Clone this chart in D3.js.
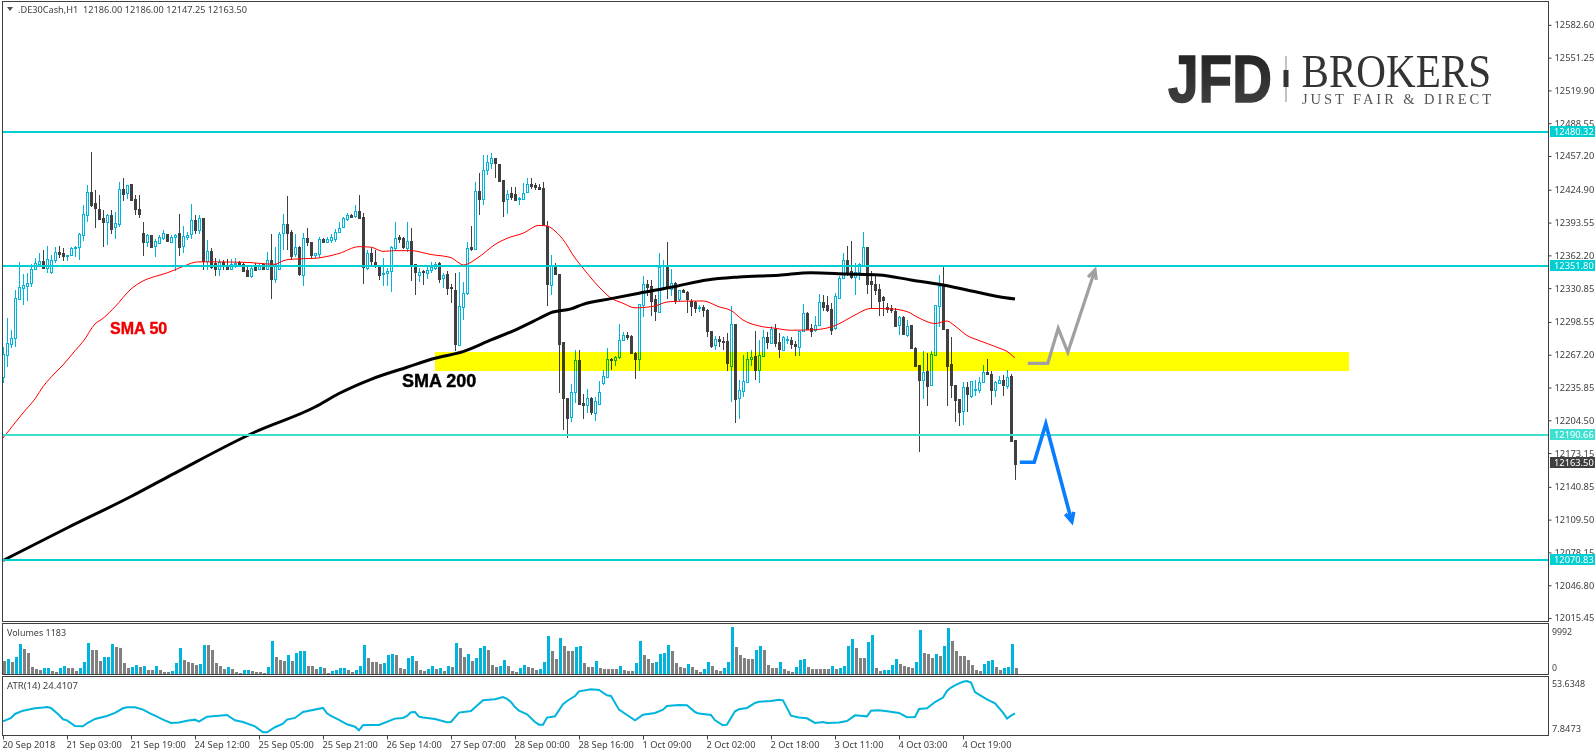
<!DOCTYPE html>
<html>
<head>
<meta charset="utf-8">
<script src="https://cdn.jsdelivr.net/npm/d3@7"></script>
<style>
html, body { margin: 0; padding: 0; background: #fff; overflow: hidden; }
svg { display: block; }
text { font-family: "Noto Sans", sans-serif; }
</style>
</head>
<body>
<div id="content"></div>
<script>
// OHLC per hourly bar
var openVals = [12246,12267,12277,12283,12321,12331,12333,12336,12349,12354,
12357,12350,12347,12357,12365,12364,12362,12362,12369,12371,
12382,12401,12423,12412,12407,12398,12394,12401,12389,12393,
12426,12421,12430,12416,12407,12384,12375,12382,12371,12374,
12379,12383,12375,12380,12384,12371,12380,12383,12396,12387,
12398,12356,12366,12355,12349,12356,12352,12349,12354,12356,
12354,12348,12342,12351,12349,12354,12349,12358,12340,12350,
12383,12392,12385,12363,12370,12344,12379,12375,12362,12364,
12378,12375,12377,12378,12384,12389,12397,12401,12400,12405,
12399,12350,12364,12356,12352,12344,12345,12347,12369,12380,
12379,12369,12376,12354,12343,12347,12345,12348,12350,12355,
12340,12344,12332,12329,12277,12313,12326,12370,12369,12424,
12416,12443,12450,12455,12450,12434,12416,12422,12421,12416,
12416,12422,12430,12429,12428,12427,12390,12334,12352,12344,
12279,12226,12208,12231,12262,12221,12219,12226,12212,12221,
12240,12246,12263,12262,12265,12281,12286,12285,12269,12263,
12315,12335,12333,12320,12308,12331,12352,12330,12336,12320,
12329,12327,12319,12318,12312,12313,12310,12290,12276,12282,
12280,12280,12257,12297,12225,12232,12241,12263,12266,12253,
12266,12284,12279,12292,12279,12272,12282,12281,12277,12275,
12290,12307,12293,12291,12296,12318,12315,12311,12292,12322,
12341,12358,12347,12341,12346,12352,12370,12338,12335,12330,
12322,12313,12312,12309,12295,12303,12286,12296,12274,12257,
12243,12252,12238,12267,12314,12333,12292,12258,12238,12225,
12213,12236,12228,12233,12233,12241,12251,12249,12233,12240,
12243,12237,12247,12186];
var highVals = [12275,12302,12291,12329,12356,12344,12345,12354,12360,12364,
12367,12371,12363,12370,12371,12369,12363,12370,12371,12384,
12410,12429,12461,12425,12420,12406,12402,12406,12404,12432,
12436,12429,12430,12420,12420,12394,12383,12382,12378,12382,
12386,12383,12382,12383,12402,12390,12385,12411,12401,12401,
12398,12377,12369,12360,12359,12358,12359,12359,12360,12357,
12355,12352,12351,12355,12354,12355,12365,12383,12370,12385,
12402,12419,12386,12383,12371,12384,12388,12375,12364,12380,
12379,12380,12383,12387,12394,12399,12403,12402,12410,12420,
12403,12367,12369,12367,12353,12360,12350,12371,12394,12382,
12380,12394,12388,12354,12350,12348,12353,12356,12356,12356,
12345,12347,12335,12345,12346,12337,12375,12390,12432,12441,
12458,12458,12460,12455,12450,12434,12425,12428,12428,12418,
12431,12436,12436,12431,12430,12432,12395,12363,12355,12344,
12279,12226,12239,12272,12272,12230,12234,12227,12227,12242,
12253,12274,12264,12266,12297,12289,12289,12286,12270,12316,
12342,12339,12339,12324,12364,12358,12375,12349,12337,12329,
12330,12328,12320,12319,12315,12315,12311,12290,12285,12285,
12284,12288,12314,12297,12243,12267,12270,12272,12290,12281,
12291,12289,12295,12297,12288,12285,12285,12284,12280,12290,
12316,12308,12297,12304,12325,12324,12323,12317,12326,12342,
12364,12371,12376,12355,12355,12385,12370,12347,12342,12335,
12323,12317,12315,12312,12304,12304,12300,12296,12275,12257,
12271,12269,12271,12315,12343,12351,12292,12284,12238,12225,
12241,12241,12242,12243,12246,12257,12263,12252,12242,12247,
12248,12253,12249,12186];
var lowVals = [12240,12255,12274,12275,12321,12315,12319,12332,12348,12351,
12349,12345,12344,12355,12360,12357,12357,12362,12361,12358,
12376,12394,12408,12388,12396,12370,12372,12383,12378,12389,
12414,12416,12414,12401,12398,12362,12370,12371,12361,12373,
12377,12375,12375,12347,12362,12364,12377,12378,12383,12383,
12348,12348,12349,12342,12342,12348,12349,12348,12350,12352,
12346,12342,12341,12348,12348,12348,12348,12320,12336,12348,
12367,12367,12358,12361,12342,12333,12371,12360,12360,12360,
12374,12374,12374,12375,12384,12388,12395,12398,12398,12398,
12335,12348,12353,12350,12339,12333,12333,12327,12366,12374,
12368,12365,12338,12324,12337,12334,12340,12345,12348,12336,
12331,12324,12317,12271,12277,12300,12324,12366,12367,12401,
12410,12439,12445,12436,12433,12399,12402,12415,12414,12410,
12415,12422,12426,12425,12425,12392,12314,12324,12343,12231,
12195,12188,12203,12221,12219,12206,12211,12210,12204,12221,
12238,12246,12253,12256,12263,12280,12281,12269,12244,12252,
12303,12323,12304,12299,12307,12329,12320,12323,12316,12318,
12326,12307,12304,12307,12308,12303,12284,12274,12272,12275,
12272,12252,12222,12202,12206,12227,12240,12256,12243,12240,
12265,12273,12279,12275,12264,12272,12277,12273,12266,12266,
12289,12291,12284,12289,12296,12309,12308,12286,12291,12321,
12341,12342,12340,12324,12339,12351,12325,12311,12324,12304,
12304,12307,12307,12295,12286,12286,12284,12273,12257,12174,
12225,12218,12237,12267,12294,12291,12218,12226,12203,12199,
12200,12212,12226,12228,12231,12240,12248,12219,12227,12239,
12228,12234,12184,12147.25];
var closeVals = [12268,12278,12283,12321,12332,12334,12336,12349,12355,12357,
12350,12359,12358,12365,12363,12361,12363,12369,12370,12383,
12402,12423,12411,12407,12397,12394,12401,12388,12393,12426,
12421,12429,12415,12406,12402,12375,12382,12371,12376,12380,
12384,12376,12380,12382,12371,12381,12382,12396,12386,12398,
12357,12366,12351,12349,12356,12352,12349,12354,12355,12354,
12347,12342,12350,12348,12352,12349,12358,12340,12354,12383,
12392,12383,12362,12370,12344,12379,12375,12363,12364,12378,
12375,12378,12380,12385,12388,12398,12401,12399,12405,12398,
12351,12364,12356,12352,12343,12345,12347,12370,12379,12378,
12370,12376,12354,12346,12346,12346,12348,12351,12354,12340,
12343,12331,12331,12277,12314,12326,12369,12368,12424,12416,
12444,12451,12455,12450,12434,12414,12421,12418,12415,12417,
12422,12430,12428,12427,12426,12392,12335,12352,12344,12277,
12225,12207,12232,12262,12220,12219,12226,12213,12223,12232,
12247,12263,12262,12265,12281,12286,12284,12269,12263,12316,
12335,12332,12319,12309,12351,12332,12332,12336,12320,12329,
12327,12320,12314,12312,12313,12310,12290,12276,12282,12280,
12279,12259,12297,12225,12233,12242,12263,12265,12253,12267,
12284,12279,12292,12279,12272,12284,12282,12277,12275,12290,
12307,12292,12290,12296,12318,12313,12310,12291,12323,12341,
12358,12345,12341,12346,12354,12370,12335,12335,12329,12319,
12319,12311,12310,12295,12303,12287,12295,12274,12257,12243,
12251,12238,12268,12315,12333,12292,12257,12238,12224,12213,
12236,12229,12242,12234,12241,12251,12249,12234,12241,12243,
12238,12246,12185,12163.5];

var volumeVals = [2660,3100,2450,3530,6330,5250,4390,1370,940,720,
1150,1170,500,290,1150,1580,1150,1140,500,1150,
2450,6550,5040,5030,2660,3530,3540,6330,5690,5470,
2230,1150,1370,1800,1370,1580,720,710,1580,720,
290,220,500,2230,5470,2880,2450,2230,1800,2020,
6120,6110,5040,2230,1580,940,1370,940,220,70,
720,730,500,290,220,210,1370,6980,3530,2880,
2660,3960,2660,4390,4820,4830,1580,1570,940,1370,
1150,140,500,720,1150,1160,720,290,720,1580,
6120,3310,2450,2440,2020,2230,3960,4180,3960,1080,
1070,3310,3740,2660,720,500,940,1580,940,1150,
500,1580,1370,6550,5470,3530,4180,2660,3310,5470,
5900,5040,1800,1370,1580,2880,1580,500,290,1150,
1800,1370,1150,720,940,2450,8060,4820,3100,7630,
5900,4820,4810,5690,5900,2230,1370,1360,2660,1150,
940,930,920,910,1580,720,500,490,2230,6980,
3960,3100,2230,2450,4180,4390,6120,4820,2230,1370,
1150,2020,1370,720,220,940,2450,1580,720,500,
1150,2450,9992,5690,3960,3310,3100,3090,5040,5900,
5040,1800,1150,1140,2450,940,500,220,1370,2880,
3100,1370,940,930,920,910,900,1580,940,1150,
1580,5900,7420,5470,3310,3300,6770,8280,1150,500,
720,730,1800,3100,2020,1580,1370,1150,2450,9360,
4390,4180,3310,4180,3740,5900,9790,6980,4820,3740,
3730,2880,1800,720,500,2020,2660,2880,1370,720,
1150,1370,6330,1183];

// indicator lines: bar index and value at each bend
var sma50Bars = [0,3,5,8,10,13,15,18,20,23,25,28,32,35,38,41,44,49,60,68,70,72,78,84,89,92,95,98,102,107,112,114,115,119,123,126,130,134,136,138,140,143,145,149,152,155,158,163,166,169,175,179,182,185,189,193,197,202,207,210,213,217,222,226,229,233,236,238,241,244,249,251,253];
var sma50Vals = [12187.6,12202,12211.5,12225,12236.6,12249.7,12257.4,12271,12279.7,12296.6,12302,12313,12330,12337.7,12342,12345.4,12350,12356,12355.6,12353.7,12357,12358.5,12359.4,12364,12370.5,12370,12366,12366.7,12366.7,12363,12360,12355,12353,12360.7,12372.6,12378.5,12383.3,12390.8,12390.3,12385.5,12377.4,12359.7,12350,12332,12321.4,12316.4,12312,12313.8,12317.6,12318.3,12318.6,12313,12309.5,12300.4,12294.7,12292.5,12290.6,12290.9,12293.7,12298.8,12305.2,12311.4,12311,12308.4,12302.3,12297,12299.4,12294.7,12285.6,12280.8,12273.6,12270.3,12264];
var sma200Bars = [0,16,32,43,63,78,84,92,101,108,115,122,128,134,137,142,145,152,159,168,176,184,194,202,211,219,227,235,241,249,253];
var sma200Vals = [12070.4,12101.5,12131.6,12154,12193.3,12217.2,12230.1,12243.7,12255.2,12263.8,12270.1,12281.3,12290.8,12301.8,12307.4,12311,12315.4,12320.8,12326,12332.4,12338.7,12341.5,12343.2,12345.6,12344.4,12343.4,12338.7,12333.9,12329.1,12322.7,12320.5];
var atrBars = [0,2,3,5,8,10,11,12,14,15,16,18,20,21,23,26,28,30,31,33,35,37,38,40,42,44,46,48,49,51,56,58,60,63,65,66,68,70,71,73,75,80,81,82,84,86,88,89,90,91,94,98,100,101,102,103,104,105,108,111,112,114,117,120,123,125,126,127,128,129,131,133,134,135,136,138,140,141,143,144,147,149,151,152,154,156,158,160,163,165,166,169,171,173,174,177,178,180,181,183,184,186,188,189,192,194,195,197,199,201,203,205,206,209,211,213,216,217,219,221,224,226,228,229,231,233,235,236,237,238,239,240,241,242,243,244,246,248,250,251,252,253];
var atrVals = [17.5,20.5,24,26.9,29.1,29.6,30.1,29.3,23.1,19.3,18.4,13.4,13.1,15.8,19.6,22.2,24.9,29,29.85,29.85,27.8,24,22.5,19,16.1,16.4,18.1,19,17.2,21.6,23.1,18.4,16.9,13.1,7.85,7.85,12.3,15.5,19,20.5,25.7,29.3,24.6,22.2,18.7,14.9,12.8,9.6,14.1,14.3,14.3,19.9,20.5,22.2,25.5,25.7,21.6,20.8,19.6,16.7,16.9,25.2,26.6,36,36.9,38.9,37.2,34.5,30.1,26.9,23.7,16.9,14.6,14.6,20.8,21.9,32.5,35.4,39.8,43.9,45.7,45.1,40.4,39.8,27.8,23.1,18.4,23.4,24.9,27.8,31,31.9,31.6,25.7,24.3,23.1,18.4,14,14.6,26.3,28.1,29.3,33.7,34.8,35.4,36.6,36,22.5,20.8,20.2,16.1,16.9,16.1,16.4,17.8,22.8,21.9,26.9,27.2,26.3,24.9,21.1,21.3,28.4,29,34.5,38.4,44.2,47.2,49.2,51,52.4,53.0,51.6,43.3,41,36.9,33.4,25.2,19.9,22.5,24.41];

// hand-drawn arrows
var greyArrowBars = [256.2,261.2,263.8,266.2,273];
var greyArrowVals = [12259,12259,12292.5,12269.5,12348.2];
var blueArrowBars = [254.2,257.8,260.7,267.2];
var blueArrowVals = [12164.4,12164.4,12201,12107.6];

var priceTicks = [12582.60,12551.25,12519.90,12488.55,12457.20,12424.90,12393.55,12362.20,12330.85,12298.55,12267.20,12235.85,12204.50,12173.15,12140.85,12109.50,12078.15,12046.80,12015.45];
var timeBars = [0,16,32,48,64,80,96,112,128,144,160,176,192,208,224,240];
var timeLabels = ["20 Sep 2018","21 Sep 03:00","21 Sep 19:00","24 Sep 12:00","25 Sep 05:00","25 Sep 21:00","26 Sep 14:00","27 Sep 07:00","28 Sep 00:00","28 Sep 16:00","1 Oct 09:00","2 Oct 02:00","2 Oct 18:00","3 Oct 11:00","4 Oct 03:00","4 Oct 19:00"];
var levelVals = [12480.32,12351.80,12190.66,12070.83];
var levelColors = ["#00ced1","#00ced1","#40e0d0","#00ced1"];
var zoneBars = [108,336.5];
var zoneVals = [12269.8,12251.6];
var lastPrice = 12163.50;

var upColor = "#00b4dc", downColor = "#404040", volDown = "#808080", frameColor = "#404040";

var W = 1595, H = 753, right = 1548;
var x = d3.scaleLinear().domain([0, 253]).range([3, 1015]);
var y = d3.scaleLinear().domain([12015.45, 12457.20]).range([618, 156]);
var yVol = d3.scaleLinear().domain([0, 9992]).range([673.5, 627]);
var yAtr = d3.scaleLinear().domain([7.8473, 53.6348]).range([732.3, 680.3]);

var svg = d3.select("#content").append("svg").attr("width", W).attr("height", H);
svg.append("rect").attr("width", W).attr("height", H).attr("fill", "#fff");

// candles
var candles = svg.append("g").selectAll("g").data(openVals).enter().append("g");
candles.append("line")
    .attr("x1", function(d, i) { return x(i) + 0.5; })
    .attr("x2", function(d, i) { return x(i) + 0.5; })
    .attr("y1", function(d, i) { return Math.round(y(highVals[i])); })
    .attr("y2", function(d, i) { return Math.round(y(lowVals[i])); })
    .attr("stroke", function(d, i) { return closeVals[i] >= d ? upColor : downColor; })
    .attr("shape-rendering", "crispEdges");
candles.append("rect")
    .attr("x", function(d, i) { return x(i) - 0.5; })
    .attr("width", 2)
    .attr("y", function(d, i) { return Math.round(y(Math.max(d, closeVals[i]))) + 0.5; })
    .attr("height", function(d, i) { return Math.max(1, Math.round(Math.abs(y(d) - y(closeVals[i])))); })
    .attr("fill", function(d, i) { return closeVals[i] >= d ? "#fff" : downColor; })
    .attr("stroke", function(d, i) { return closeVals[i] >= d ? upColor : downColor; })
    .attr("shape-rendering", "crispEdges");

// yellow zone multiplies over the candles, that gives the green bodies
svg.append("rect")
    .attr("x", x(zoneBars[0])).attr("width", x(zoneBars[1]) - x(zoneBars[0]))
    .attr("y", y(zoneVals[0])).attr("height", y(zoneVals[1]) - y(zoneVals[0]))
    .attr("fill", "#ffff00")
    .style("mix-blend-mode", "multiply");

var line = d3.line().x(function(d) { return x(d[0]); }).y(function(d) { return y(d[1]); });
var smooth = d3.line().x(function(d) { return x(d[0]); }).y(function(d) { return y(d[1]); }).curve(d3.curveMonotoneX);

svg.append("path").datum(d3.zip(sma50Bars, sma50Vals))
    .attr("d", smooth).attr("fill", "none").attr("stroke", "#ff0000").attr("stroke-width", 1);
svg.append("path").datum(d3.zip(sma200Bars, sma200Vals))
    .attr("d", smooth).attr("fill", "none").attr("stroke", "#000").attr("stroke-width", 3);

// horizontal levels
svg.append("g").selectAll("line").data(levelVals).enter().append("line")
    .attr("x1", 3).attr("x2", right)
    .attr("y1", function(d) { return Math.round(y(d)); })
    .attr("y2", function(d) { return Math.round(y(d)); })
    .attr("stroke", function(d, i) { return levelColors[i]; })
    .attr("stroke-width", 2)
    .attr("shape-rendering", "crispEdges");

// arrows with a small head
function drawArrow(bars, vals, color, width) {
    var pts = d3.zip(bars, vals);
    svg.append("path").datum(pts).attr("d", line)
        .attr("fill", "none").attr("stroke", color).attr("stroke-width", width).attr("stroke-linejoin", "miter");
    var a = pts[pts.length - 2], b = pts[pts.length - 1];
    var ang = Math.atan2(y(b[1]) - y(a[1]), x(b[0]) - x(a[0]));
    var tx = x(b[0]), ty = y(b[1]), len = 10, spread = 0.45;
    svg.append("path")
        .attr("d", "M" + (tx - len * Math.cos(ang - spread)) + "," + (ty - len * Math.sin(ang - spread)) +
            "L" + tx + "," + ty +
            "L" + (tx - len * Math.cos(ang + spread)) + "," + (ty - len * Math.sin(ang + spread)))
        .attr("fill", "none").attr("stroke", color).attr("stroke-width", width);
}
drawArrow(greyArrowBars, greyArrowVals, "#a0a0a0", 3.2);
drawArrow(blueArrowBars, blueArrowVals, "#0a7dff", 3.6);

// annotations
svg.append("text").text("SMA 50").attr("x", 110).attr("y", 334)
    .style("font-family", "Liberation Sans").attr("font-weight", "bold").attr("font-size", 16)
    .attr("fill", "#f00000").attr("stroke", "#f00000").attr("stroke-width", 0.4);
svg.append("text").text("SMA 200").attr("x", 402).attr("y", 387)
    .style("font-family", "Liberation Sans").attr("font-weight", "bold").attr("font-size", 18)
    .attr("fill", "#000").attr("stroke", "#000").attr("stroke-width", 0.4);

// volumes
svg.append("g").selectAll("rect").data(volumeVals).enter().append("rect")
    .attr("x", function(d, i) { return x(i); })
    .attr("width", 3)
    .attr("y", function(d) { return yVol(d); })
    .attr("height", function(d) { return yVol(0) - yVol(d); })
    .attr("fill", function(d, i) { return i > 0 && d > volumeVals[i - 1] ? upColor : volDown; })
    .attr("shape-rendering", "crispEdges");

// ATR
svg.append("path").datum(d3.zip(atrBars, atrVals))
    .attr("d", d3.line().x(function(d) { return x(d[0]); }).y(function(d) { return yAtr(d[1]); }))
    .attr("fill", "none").attr("stroke", upColor).attr("stroke-width", 2);

// pane frames
var panes = [[1, 621], [623, 674], [676, 735]];
svg.append("g").selectAll("rect").data(panes).enter().append("rect")
    .attr("x", 2.5).attr("width", right - 2)
    .attr("y", function(d) { return d[0] + 0.5; })
    .attr("height", function(d) { return d[1] - d[0]; })
    .attr("fill", "none").attr("stroke", frameColor)
    .attr("shape-rendering", "crispEdges");

// axes
var yAxis = d3.axisRight(y).tickValues(priceTicks).tickFormat(d3.format(".2f")).tickSize(3).tickPadding(3);
var gy = svg.append("g").attr("transform", "translate(" + (right + 0.5) + ",0)").call(yAxis);
gy.select(".domain").remove();
gy.selectAll("text").style("font-family", "Noto Sans").attr("font-size", 9.3).attr("fill", "#404040");
gy.selectAll("line").attr("stroke", frameColor);

var xAxis = d3.axisBottom(x).tickValues(timeBars).tickFormat(function(d, i) { return timeLabels[i]; }).tickSize(4).tickPadding(2);
var gx = svg.append("g").attr("transform", "translate(0,735.5)").call(xAxis);
gx.select(".domain").remove();
gx.selectAll("text").style("font-family", "Noto Sans").attr("font-size", 9.3).attr("fill", "#404040")
    .attr("text-anchor", "start").attr("dx", -1);
gx.selectAll("line").attr("stroke", frameColor);

// price boxes on the axis
var boxes = levelVals.map(function(v, i) { return [v, levelColors[i]]; }).concat([[lastPrice, downColor]]);
var box = svg.append("g").selectAll("g").data(boxes).enter().append("g")
    .attr("transform", function(d) { return "translate(1550," + Math.round(y(d[0])) + ")"; });
box.append("rect").attr("y", -6).attr("width", 45).attr("height", 11).attr("fill", function(d) { return d[1]; });
box.append("text").text(function(d) { return d3.format(".2f")(d[0]); })
    .attr("x", 4).attr("y", 3.3).attr("font-size", 9.3).attr("fill", "#fff");

// pane captions, last number is the width of the text
var captions = [
    [".DE30Cash,H1  12186.00 12186.00 12147.25 12163.50", 18, 12.5, 229],
    ["Volumes 1183", 7, 636, 59],
    ["ATR(14) 24.4107", 7, 689, 71],
    ["9992", 1552, 634.5, 20],
    ["0", 1552, 671, 5],
    ["53.6348", 1552, 686.5, 33],
    ["7.8473", 1552, 731.5, 29]
];
svg.append("g").selectAll("text").data(captions).enter().append("text")
    .text(function(d) { return d[0]; })
    .attr("x", function(d) { return d[1]; }).attr("y", function(d) { return d[2]; })
    .attr("textLength", function(d) { return d[3]; }).attr("lengthAdjust", "spacingAndGlyphs")
    .attr("font-size", 9.5).attr("fill", "#404040").attr("xml:space", "preserve");
svg.append("path").attr("d", "M7,7L13,7L10,11Z").attr("fill", "#505050");

// logo
var grad = svg.append("defs").append("linearGradient").attr("id", "jfd").attr("x1", 0).attr("y1", 0).attr("x2", 0).attr("y2", 1);
grad.append("stop").attr("offset", 0).attr("stop-color", "#1e1e1e");
grad.append("stop").attr("offset", 1).attr("stop-color", "#444");
svg.append("text").text("JFD").attr("x", 1168).attr("y", 101.5)
    .style("font-family", "Liberation Sans").attr("font-weight", "bold").attr("font-size", 66)
    .attr("textLength", 104).attr("lengthAdjust", "spacingAndGlyphs")
    .attr("fill", "url(#jfd)").attr("stroke", "url(#jfd)").attr("stroke-width", 1.4);
svg.append("line").attr("x1", 1286).attr("x2", 1286).attr("y1", 56).attr("y2", 102).attr("stroke", "#999").attr("stroke-width", 1.2);
svg.append("rect").attr("x", 1283.5).attr("y", 70).attr("width", 5).attr("height", 17).attr("fill", "#333");
svg.append("text").text("BROKERS").attr("x", 1301.5).attr("y", 86.5)
    .style("font-family", "Liberation Serif").attr("font-size", 46.5)
    .attr("textLength", 189.5).attr("lengthAdjust", "spacingAndGlyphs").attr("fill", "#333");
svg.append("text").text("JUST FAIR & DIRECT").attr("x", 1302).attr("y", 103.5)
    .style("font-family", "Liberation Serif").attr("font-size", 14.5)
    .attr("textLength", 189).attr("lengthAdjust", "spacing").attr("fill", "#555");
</script>
</body>
</html>
